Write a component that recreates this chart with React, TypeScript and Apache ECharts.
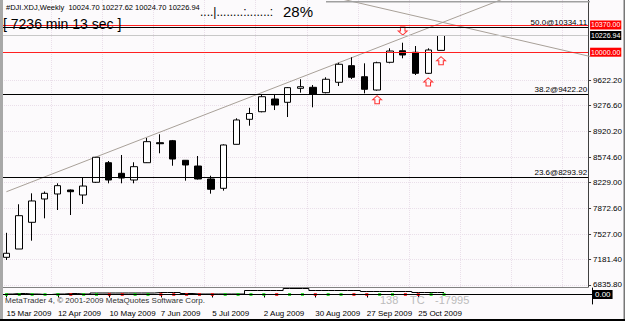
import React, { useEffect, useRef } from 'react';
import * as echarts from 'echarts';

// ---------- data ----------
const weeks = [
  '15 Mar 2009', '22 Mar 2009', '29 Mar 2009', '5 Apr 2009', '12 Apr 2009', '19 Apr 2009', '26 Apr 2009',
  '3 May 2009', '10 May 2009', '17 May 2009', '24 May 2009', '31 May 2009', '7 Jun 2009', '14 Jun 2009',
  '21 Jun 2009', '28 Jun 2009', '5 Jul 2009', '12 Jul 2009', '19 Jul 2009', '26 Jul 2009', '2 Aug 2009',
  '9 Aug 2009', '16 Aug 2009', '23 Aug 2009', '30 Aug 2009', '6 Sep 2009', '13 Sep 2009', '20 Sep 2009',
  '27 Sep 2009', '4 Oct 2009', '11 Oct 2009', '18 Oct 2009', '25 Oct 2009', '1 Nov 2009', '8 Nov 2009',
];
const opens = [
  7212, 7325, 7688, 8005, 8073, 8127, 8059, 8232, 8498, 8354, 8263, 8498, 8770, 8797, 8531, 8453, 8277,
  8150, 8748, 9088, 9191, 9364, 9319, 9509, 9523, 9450, 9591, 9817, 9667, 9486, 9863, 10020, 9999, 9713, 10024.7,
];
const highs = [
  7545, 7933, 8082, 8107, 8218, 8134, 8300, 8576, 8521, 8603, 8504, 8834, 8884, 8807, 8535, 8589, 8321,
  8748, 9102, 9244, 9418, 9432, 9527, 9632, 9554, 9659, 9857, 9931, 9849, 9871, 10053, 10129, 10084, 10053, 10227.62,
];
const lows = [
  7176, 7325, 7438, 7742, 7855, 7787, 7937, 8222, 8218, 8218, 8218, 8494, 8626, 8457, 8254, 8270, 8077,
  8118, 8746, 9001, 9183, 9214, 9119, 9450, 9251, 9441, 9541, 9636, 9441, 9477, 9849, 9917, 9690, 9704, 10024.7,
];
const closes = [
  7267, 7778, 7978, 8082, 8186, 8104, 8181, 8572, 8263, 8290, 8444, 8784, 8756, 8548, 8467, 8277, 8137,
  8739, 9079, 9167, 9395, 9282, 9518, 9531, 9432, 9632, 9836, 9659, 9496, 9857, 10016, 9962, 9713, 10030, 10226.94,
];
const indicator = [
  0.5, 1, 0.5, 0, 0.5, 1, 0.5, 1.5, 1.5, 1.5, 1.5, 1.5, 2, 2, 1, 0.5, 0.5, 0.5, 0.5,
  4, 4, 4, 6, 6, 4, 4, 4, 4, 3, 3, 3, 3, 2, 2, 2,
];
const priceTicks = [9622.2, 9276.6, 8920.2, 8574.6, 8229.0, 7872.6, 7527.0, 7181.4, 6835.8];
const alertLevels = [10370, 10000];
const fibRatios = ['50.0', '38.2', '23.6'];
const fibPrices = [10334.11, 9422.2, 8293.92];
const trendUp = [[7, 8575.6], [26, 9857.3]];
const trendDown = [[26, 10732.5], [46, 9928.3]];
const topLine = [[25, 10686], [46, 10686]];
const arrowsUp = [[29, 9354], [33, 9595], [34, 9884]];
const arrowsDown = [[31, 10288]];

const SLOTS = 46;
const PRICE_MIN = 6808.6;
const PRICE_MAX = 10709.6;
const FONT = '"Liberation Sans", Arial, sans-serif';

function extend(pts: number[][], from: number, to: number) {
  const [a, b] = pts;
  const k = (b[1] - a[1]) / (b[0] - a[0]);
  return [[from, a[1] + k * (from - a[0])], [to, a[1] + k * (to - a[0])]];
}

export default function App() {
  const ref = useRef<HTMLDivElement>(null);
  useEffect(() => {
    if (!ref.current) return;
    const chart = echarts.init(ref.current, undefined, { renderer: 'svg' });
    const cats = weeks.concat(Array(SLOTS - weeks.length).fill(''));
    const last = weeks.length - 1;
    const labelIdx = (i: number) => i % 4 === 0 && i < weeks.length;
    const arrowPath = 'path://M4,0 L8,4 L6,4 L6,8 L2,8 L2,4 L0,4 Z';

    const boxLabel = (txt: string, bg: string) => ({
      show: true, position: 'end', formatter: txt, backgroundColor: bg, color: '#fff',
      padding: [0, 1, 0, 1], lineHeight: 9, distance: 2, fontSize: 7, fontFamily: FONT,
    });

    const markData: any[] = [];
    alertLevels.forEach((p) => {
      markData.push({ yAxis: p, lineStyle: { color: '#ff2020', width: 1, type: 'solid' }, label: boxLabel(p.toFixed(2), '#ff0000') });
    });
    markData.push({ yAxis: closes[last], lineStyle: { color: '#c8c8c8', width: 1, type: 'solid' }, label: boxLabel(closes[last].toFixed(2), '#000') });
    fibPrices.forEach((p, i) => {
      markData.push({
        yAxis: p, lineStyle: { color: '#000', width: 1, type: 'solid' },
        label: { show: true, position: 'insideEndTop', formatter: `${fibRatios[i]}@${p.toFixed(2)}`, color: '#000', fontSize: 8, fontFamily: FONT, distance: 1 },
      });
    });

    const option: any = {
      animation: false,
      backgroundColor: '#fcfafc',
      textStyle: { fontFamily: FONT },
      grid: [
        { left: -3.47, right: 33, top: 0, bottom: 34 },
        { left: -3.47, right: 33, top: 288, bottom: 17 },
      ],
      xAxis: [
        {
          type: 'category', gridIndex: 0, data: cats, boundaryGap: true,
          axisLine: { show: true, lineStyle: { color: '#808080' } },
          axisTick: { show: false }, axisLabel: { show: false },
          splitLine: { show: true, interval: (i: number) => i % 4 === 0, lineStyle: { color: '#eadfea', type: 'dotted' } },
        },
        {
          type: 'category', gridIndex: 1, data: cats, boundaryGap: true,
          axisLine: { show: true, lineStyle: { color: '#000' } },
          axisTick: { show: true, alignWithLabel: true, interval: labelIdx, length: 3, lineStyle: { color: '#000' } },
          axisLabel: { show: true, interval: labelIdx, align: 'left', fontSize: 8, color: '#000', margin: 5 },
          splitLine: { show: false },
        },
      ],
      yAxis: [
        {
          type: 'value', gridIndex: 0, position: 'right', min: PRICE_MIN, max: PRICE_MAX, scale: true,
          axisLine: { show: true, lineStyle: { color: '#404040' } },
          axisTick: { show: true, length: 3, customValues: priceTicks, lineStyle: { color: '#404040' } },
          axisLabel: { show: true, customValues: priceTicks, formatter: (v: number) => v.toFixed(2), fontSize: 8, color: '#000', margin: 5 },
          splitLine: { show: true, lineStyle: { color: '#eadfea', type: 'dotted' } },
        },
        {
          type: 'value', gridIndex: 1, position: 'right', min: -9.5, max: 6.5,
          axisLine: { show: true, lineStyle: { color: '#000' } },
          axisTick: { show: false },
          axisLabel: { show: true, customValues: [0], formatter: () => '0.00', fontSize: 8, color: '#fff', backgroundColor: '#000', padding: [1, 2, 0, 2], margin: 1 },
          splitLine: { show: false },
        },
      ],
      series: [
        {
          type: 'candlestick', xAxisIndex: 0, yAxisIndex: 0, barWidth: 7,
          data: opens.map((o, i) => [o, closes[i], lows[i], highs[i]]),
          itemStyle: { color: '#ffffff', color0: '#000000', borderColor: '#000000', borderColor0: '#000000', borderWidth: 1 },
          markLine: { silent: true, symbol: ['none', 'none'], data: markData },
          z: 3,
        },
        {
          type: 'line', xAxisIndex: 0, yAxisIndex: 0, data: extend(trendUp, 0, 45), showSymbol: false, clip: true,
          lineStyle: { color: '#a8a098', width: 1 }, z: 2,
        },
        {
          type: 'line', xAxisIndex: 0, yAxisIndex: 0, data: trendDown, showSymbol: false, clip: true,
          lineStyle: { color: '#a8a098', width: 1 }, z: 2,
        },
        {
          type: 'line', xAxisIndex: 0, yAxisIndex: 0, data: topLine, showSymbol: false, clip: true,
          lineStyle: { color: '#a0a0a0', width: 1.5 }, z: 2,
        },
        {
          type: 'scatter', xAxisIndex: 0, yAxisIndex: 0, data: arrowsUp, symbol: arrowPath, symbolSize: [9, 8],
          itemStyle: { color: 'rgba(255,255,255,0)', borderColor: '#ff0000', borderWidth: 1 }, z: 4,
        },
        {
          type: 'scatter', xAxisIndex: 0, yAxisIndex: 0, data: arrowsDown, symbol: arrowPath, symbolSize: [9, 8], symbolRotate: 180,
          itemStyle: { color: 'rgba(255,255,255,0)', borderColor: '#ff0000', borderWidth: 1 }, z: 4,
        },
        {
          type: 'line', xAxisIndex: 1, yAxisIndex: 1, data: indicator, step: 'middle', showSymbol: false,
          lineStyle: { color: '#000', width: 1 },
          markLine: { silent: true, symbol: ['none', 'none'], label: { show: false }, data: [{ yAxis: 0, lineStyle: { color: '#000', width: 1, type: 'solid' } }] },
        },
        {
          type: 'scatter', xAxisIndex: 1, yAxisIndex: 1, symbol: 'rect', symbolSize: [3, 3],
          data: closes.map((c, i) => ({ value: [i, 0], itemStyle: { color: c >= opens[i] ? '#00dd00' : '#ff0000' } })),
          z: 4,
        },
      ],
      graphic: [
        { type: 'text', x: 6, y: 7, z: 10, style: { text: `#DJI.XDJ,Weekly  ${opens[last].toFixed(2)} ${highs[last].toFixed(2)} ${lows[last].toFixed(2)} ${closes[last].toFixed(2)}`, fontSize: 7.5, fontFamily: FONT, fill: '#000', verticalAlign: 'middle' } },
        { type: 'text', x: 200, y: 12, z: 10, style: { text: '....|........:.......:', fontSize: 12, fontFamily: FONT, fill: '#000', verticalAlign: 'middle' } },
        { type: 'text', x: 283, y: 11, z: 10, style: { text: '28%', fontSize: 15, fontFamily: FONT, fill: '#000', verticalAlign: 'middle' } },
        { type: 'text', x: 3, y: 24, z: 10, style: { text: '[ 7236 min 13 sec ]', fontSize: 14, fontFamily: FONT, fill: '#000', verticalAlign: 'middle' } },
        { type: 'text', x: 5, y: 300, z: 10, style: { text: 'MetaTrader 4, © 2001-2009 MetaQuotes Software Corp.', fontSize: 8, fontFamily: FONT, fill: '#333', verticalAlign: 'middle' } },
        { type: 'text', x: 380, y: 300, z: 10, style: { text: '138', fontSize: 11, fontFamily: FONT, fill: '#bbbbbb', verticalAlign: 'middle' } },
        { type: 'text', x: 410, y: 300, z: 10, style: { text: 'TC', fontSize: 11, fontFamily: FONT, fill: '#bbbbbb', verticalAlign: 'middle' } },
        { type: 'text', x: 435, y: 300, z: 10, style: { text: '-17995', fontSize: 11, fontFamily: FONT, fill: '#bbbbbb', verticalAlign: 'middle' } },
        { type: 'rect', x: 0, y: 0, z: 20, shape: { width: 3, height: 321 }, style: { fill: '#a8a8a8' } },
        { type: 'rect', x: 0, y: 319, z: 20, shape: { width: 625, height: 2 }, style: { fill: '#000' } },
        { type: 'rect', x: 623.5, y: 0, z: -1, shape: { width: 1.5, height: 321 }, style: { fill: '#777' } },
      ],
    };
    chart.setOption(option);
    return () => chart.dispose();
  }, []);
  return <div ref={ref} style={{ position: 'fixed', left: 0, top: 0, width: 625, height: 321 }} />;
}
